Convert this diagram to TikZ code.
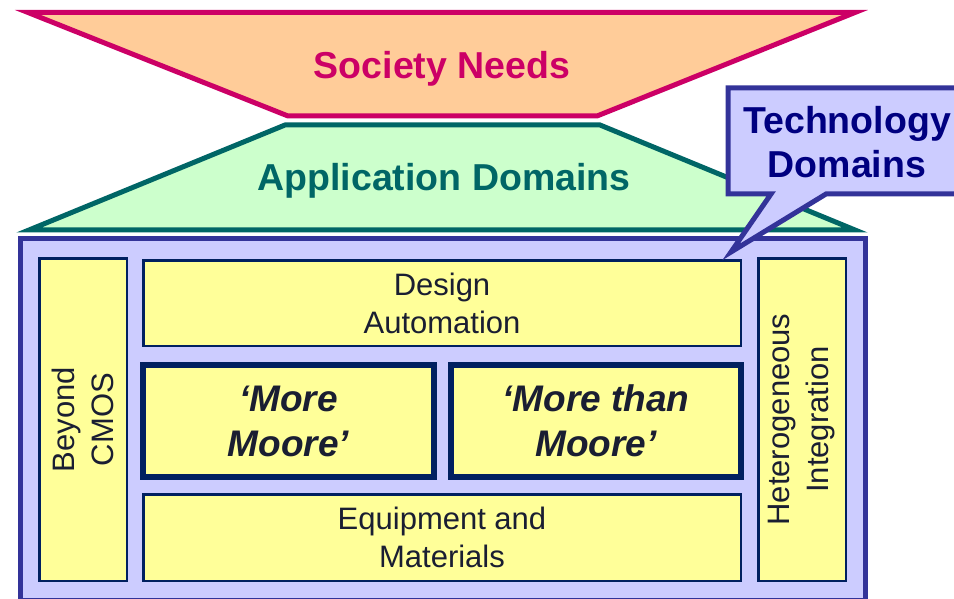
\documentclass[tikz,border=0pt]{standalone}
\usepackage{fontspec}
\setmainfont{Liberation Sans}
\usetikzlibrary{positioning}
\definecolor{societyrose}{RGB}{204, 0, 102}
\definecolor{societypeach}{RGB}{255, 204, 153}
\definecolor{appteal}{RGB}{0, 102, 102}
\definecolor{appmint}{RGB}{204, 255, 204}
\definecolor{techindigo}{RGB}{51, 51, 153}
\definecolor{techlilac}{RGB}{204, 204, 255}
\definecolor{technavy}{RGB}{0, 0, 128}
\definecolor{cellyellow}{RGB}{255, 255, 153}
\definecolor{cellnavy}{RGB}{0, 32, 96}
\definecolor{celltext}{RGB}{26, 30, 50}

\begin{document}
\begin{tikzpicture}[x=1pt, y=-1pt,
        layer/.style={line width=5pt},
        cell/.style={draw=cellnavy, fill=cellyellow, line width=2.5pt, inner sep=0pt, align=center,
            text=celltext, font=\fontsize{31}{38}\selectfont},
        sidecell/.style={cell, rotate=90, minimum width=322.5, minimum height=87.5, font=\fontsize{31}{39}\selectfont},
        moorecell/.style={cell, line width=6pt, minimum width=291, minimum height=112,
            font=\fontsize{37}{45}\selectfont\bfseries\itshape},
        bigtitle/.style={font=\fontsize{37.5}{44}\selectfont\bfseries, inner sep=0pt}]
        \useasboundingbox (0, 0) rectangle (954, 599);

        % top layers
        \draw [layer, societyrose, fill=societypeach] (28, 12.5) -- (855, 12.5) -- (597, 116) -- (288, 116) -- cycle;
        \node [bigtitle, text=societyrose, anchor=base] (Society) at (442, 79) {Society Needs};

        \draw [layer, appteal, fill=appmint] (285, 125) -- (600, 125) -- (855, 230) -- (29, 230) -- cycle;
        \node [bigtitle, text=appteal, anchor=base] (Application) at (444, 191) {Application Domains};

        % technology frame
        \node [layer, draw=techindigo, fill=techlilac, minimum width=845, minimum height=362] (Tech) at (442.5, 419) {};

        \node [sidecell] (Beyond) at (83, 419.5) {Beyond\\CMOS};
        \node [cell, minimum width=597.5, minimum height=85.5] (Design) at (442, 303) {Design\\Automation};
        \node [moorecell] (MoreMoore) at (288.5, 421) {‘More\\Moore’};
        \node [moorecell, minimum width=290] (MoreThan) at (596, 421) {‘More than\\Moore’};
        \node [cell, minimum width=597.5, minimum height=86.5] (Equipment) at (442, 537.5) {Equipment and\\Materials};
        \node [sidecell] (Hetero) at (802, 419.5) {Heterogeneous\\Integration};

        % callout
        \draw [layer, techindigo, fill=techlilac] (728, 88) -- (965, 88) -- (965, 194) -- (826, 194) -- (731, 252) -- (771, 194) -- (728, 194) -- cycle;
        \node [bigtitle, text=technavy, align=center] (TechLabel) at (847, 142) {Technology\\Domains};
    \end{tikzpicture}
\end{document}
